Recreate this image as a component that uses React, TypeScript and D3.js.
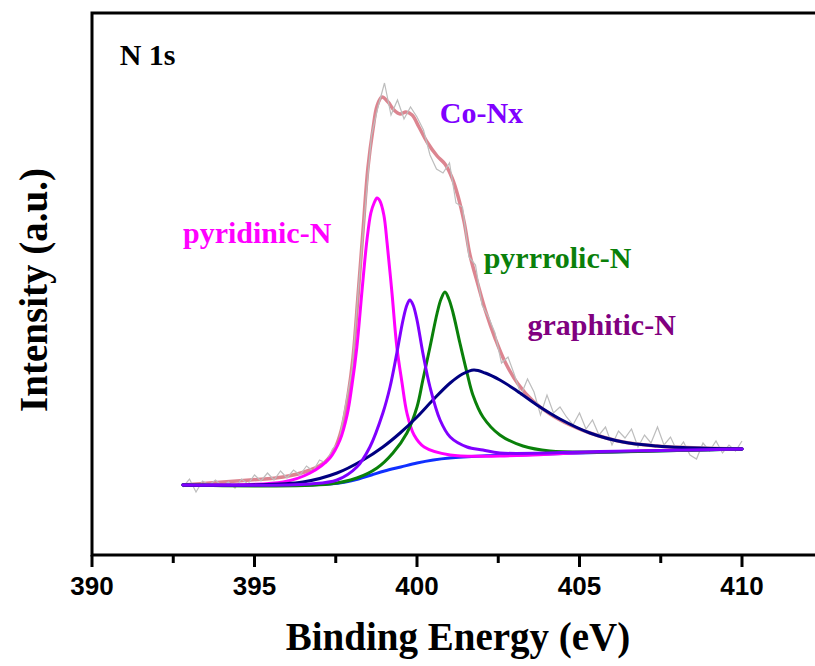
import { useEffect, useRef } from 'react';
import * as d3 from 'd3';

// XPS N 1s fit, values as [binding energy (eV), intensity (a.u.)]
const RAW_EV = [
  392.8, 393.0, 393.2, 393.4, 393.6, 393.8, 394.0, 394.2, 394.4, 394.6, 394.8,
  395.0, 395.2, 395.4, 395.6, 395.8, 396.0, 396.2, 396.4, 396.6, 396.8,
  397.0, 397.2, 397.4, 397.6, 397.8, 398.0, 398.2, 398.4, 398.6, 398.8,
  399.0, 399.2, 399.4, 399.6, 399.8, 400.0, 400.2, 400.4, 400.6, 400.8,
  401.0, 401.2, 401.4, 401.6, 401.8, 402.0, 402.2, 402.4, 402.6, 402.8,
  403.0, 403.2, 403.4, 403.6, 403.8, 404.0, 404.2, 404.4, 404.6, 404.8,
  405.0, 405.2, 405.4, 405.6, 405.8, 406.0, 406.2, 406.4, 406.6, 406.8,
  407.0, 407.2, 407.4, 407.6, 407.8, 408.0, 408.2, 408.4, 408.6, 408.8,
  409.0, 409.2, 409.4, 409.6, 409.8, 410.0,
];
const RAW_INTENSITY = [
  68, 76, 63, 74, 70, 75, 69, 73, 67, 76, 71,
  80, 74, 82, 75, 84, 77, 85, 80, 89, 84,
  95, 92, 106, 113, 150, 185, 268, 345, 420, 448,
  472, 440, 455, 436, 448, 438, 425, 400, 386, 382,
  392, 352, 348, 298, 290, 250, 238, 222, 192, 198,
  180, 160, 176, 163, 140, 160, 142, 148, 138, 130,
  142, 126, 135, 120, 128, 110, 124, 117, 126, 108,
  120, 112, 128, 110, 118, 104, 113, 100, 96, 112,
  104, 114, 102, 110, 104, 114,
];

const ENVELOPE = [
  [392.8, 70], [394.86, 75], [395.88, 78], [396.71, 85], [397.17, 93], [397.48, 107],
  [397.69, 127], [397.88, 160], [398.03, 197], [398.18, 257], [398.34, 325], [398.49, 387],
  [398.65, 427], [398.77, 449], [398.92, 458], [399.11, 453], [399.29, 445], [399.48, 441],
  [399.66, 443], [399.85, 440], [400.06, 428], [400.31, 413], [400.62, 399], [400.86, 391],
  [401.08, 377], [401.26, 359], [401.45, 333], [401.63, 300], [401.88, 270], [402.12, 243],
  [402.4, 217], [402.71, 193], [403.11, 171], [403.57, 154], [404.09, 141], [404.71, 130],
  [405.32, 122], [406.34, 113], [407.38, 109], [408.71, 107], [410.0, 106],
];

const BACKGROUND = [
  [392.8, 70], [396.5, 70], [397.3, 71], [397.8, 73], [398.2, 76], [398.6, 80],
  [399.0, 84], [399.5, 88], [400.0, 92], [400.5, 95], [401.0, 97], [402.0, 99],
  [403.0, 100], [404.0, 101], [406.0, 103], [408.0, 104.5], [410.0, 106],
];

const PYRIDINIC = [
  [392.8, 70], [395.88, 73], [396.71, 82], [397.32, 97], [397.63, 115], [397.85, 140],
  [398.0, 170], [398.15, 208], [398.31, 265], [398.46, 315], [398.58, 342], [398.68, 352],
  [398.77, 357], [398.86, 354], [398.98, 340], [399.08, 312], [399.23, 262], [399.38, 208],
  [399.54, 172], [399.69, 142], [399.91, 120], [400.22, 108], [401.02, 100], [402.55, 99],
  [405.63, 103], [410.0, 106],
];

const CO_NX = [
  [392.8, 70], [396.71, 71], [397.54, 75], [398.15, 88], [398.55, 108], [398.95, 142],
  [399.17, 168], [399.38, 202], [399.57, 235], [399.69, 250], [399.78, 255], [399.88, 250],
  [400.0, 235], [400.18, 202], [400.4, 168], [400.71, 135], [401.02, 118], [401.54, 108],
  [402.03, 105], [402.55, 102], [405.63, 103.5], [410.0, 106],
];

const PYRROLIC = [
  [392.8, 70], [397.32, 71], [398.15, 77], [398.77, 87], [399.26, 102], [399.69, 122],
  [400.0, 148], [400.18, 175], [400.4, 208], [400.62, 242], [400.74, 256], [400.86, 263],
  [400.98, 256], [401.11, 242], [401.32, 212], [401.54, 182], [401.72, 160], [402.03, 138],
  [402.55, 120], [403.26, 109], [404.09, 104], [405.63, 103], [410.0, 106],
];

const GRAPHITIC = [
  [392.8, 70], [394.86, 70], [396.49, 73], [397.54, 82], [398.34, 95], [398.95, 108],
  [399.48, 122], [400.0, 138], [400.49, 155], [401.02, 172], [401.4, 181], [401.75, 185],
  [402.1, 182], [402.55, 175], [403.08, 164], [403.69, 150], [404.4, 136], [405.32, 122],
  [406.34, 113], [407.38, 109], [408.18, 107.5], [410.0, 106],
];

const MAJOR_TICKS = [390, 395, 400, 405, 410];
const MINOR_TICKS = [392.5, 397.5, 402.5, 407.5];

const LABELS = [
  { text: 'N 1s', ev: 390.85, y: 490, color: '#000000' },
  { text: 'Co-Nx', ev: 400.7, y: 432, color: '#8000ff' },
  { text: 'pyridinic-N', ev: 392.8, y: 312, color: '#ff00ff' },
  { text: 'pyrrrolic-N', ev: 402.05, y: 287, color: '#0a800a' },
  { text: 'graphitic-N', ev: 403.4, y: 220, color: '#800080' },
];

const SERIF = "'Liberation Serif', 'Times New Roman', serif";
const SANS = "'Liberation Sans', Arial, sans-serif";

export default function App() {
  const svgRef = useRef(null);

  useEffect(() => {
    if (!svgRef.current) return;
    const svg = d3.select(svgRef.current);
    svg.selectAll('*').remove();

    const left = 92;
    const top = 13;
    const bottom = 555;
    const x = d3.scaleLinear().domain([390, 412.5]).range([left, 823.25]);
    const y = d3.scaleLinear().domain([0, 542]).range([bottom, top]);

    const smooth = d3.line()
      .x((d) => x(d[0]))
      .y((d) => y(d[1]))
      .curve(d3.curveCatmullRom.alpha(0.5));

    const raw = RAW_EV.map((ev, i) => [ev, RAW_INTENSITY[i]]);
    const rawLine = d3.line()
      .x((d) => x(d[0]))
      .y((d) => y(d[1]));

    const g = svg.append('g');

    // envelope, then raw counts, then the fitted components
    g.append('path').attr('d', smooth(ENVELOPE)).attr('fill', 'none')
      .attr('stroke', '#dc8590').attr('stroke-width', 3.5);
    g.append('path').attr('d', rawLine(raw)).attr('fill', 'none')
      .attr('stroke', '#bdbdbd').attr('stroke-width', 1.2);

    const comps = [
      { data: BACKGROUND, color: '#1030ff' },
      { data: PYRIDINIC, color: '#ff00ff' },
      { data: PYRROLIC, color: '#0a800a' },
      { data: GRAPHITIC, color: '#000080' },
      { data: CO_NX, color: '#8000ff' },
    ];
    comps.forEach((c) => {
      g.append('path').attr('d', smooth(c.data)).attr('fill', 'none')
        .attr('stroke', c.color).attr('stroke-width', 3)
        .attr('stroke-linecap', 'round');
    });

    // frame
    g.append('path')
      .attr('d', `M${x(412.5)},${top}H${left}V${bottom}H${x(412.5)}`)
      .attr('fill', 'none').attr('stroke', '#000').attr('stroke-width', 3);

    g.selectAll('line.major').data(MAJOR_TICKS).join('line')
      .attr('class', 'major')
      .attr('x1', (d) => x(d)).attr('x2', (d) => x(d))
      .attr('y1', bottom).attr('y2', bottom + 12)
      .attr('stroke', '#000').attr('stroke-width', 3);
    g.selectAll('line.minor').data(MINOR_TICKS).join('line')
      .attr('class', 'minor')
      .attr('x1', (d) => x(d)).attr('x2', (d) => x(d))
      .attr('y1', bottom).attr('y2', bottom + 8)
      .attr('stroke', '#000').attr('stroke-width', 3);
    g.selectAll('text.tick').data(MAJOR_TICKS).join('text')
      .attr('class', 'tick')
      .attr('x', (d) => x(d)).attr('y', bottom + 40)
      .attr('text-anchor', 'middle')
      .style('font-family', SANS).style('font-weight', 'bold').style('font-size', '26px')
      .text((d) => d);

    g.append('text')
      .attr('x', 458).attr('y', 650)
      .attr('text-anchor', 'middle')
      .style('font-family', SERIF).style('font-weight', 'bold').style('font-size', '39px')
      .text('Binding Energy (eV)');

    g.append('text')
      .attr('transform', 'translate(47,290) rotate(-90)')
      .attr('text-anchor', 'middle')
      .style('font-family', SERIF).style('font-weight', 'bold').style('font-size', '39px')
      .text('Intensity (a.u.)');

    g.selectAll('text.label').data(LABELS).join('text')
      .attr('class', 'label')
      .attr('x', (d) => x(d.ev)).attr('y', (d) => y(d.y))
      .attr('fill', (d) => d.color)
      .style('font-family', SERIF).style('font-weight', 'bold').style('font-size', '30px')
      .text((d) => d.text);
  }, []);

  return (
    <svg
      ref={svgRef}
      width={815}
      height={666}
      style={{ position: 'absolute', left: 0, top: 0, background: '#fff' }}
    />
  );
}
